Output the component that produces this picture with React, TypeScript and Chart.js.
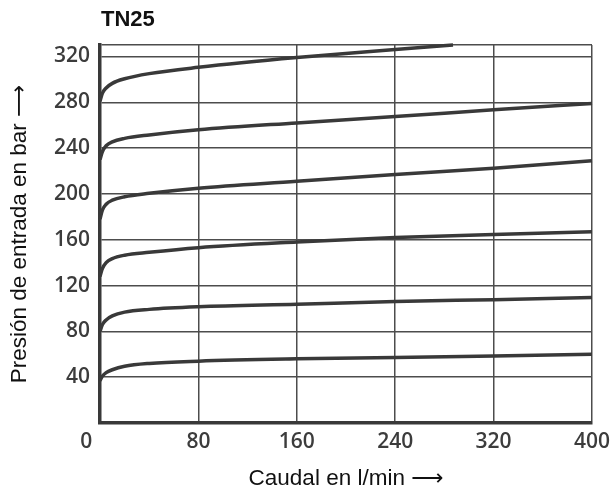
import React, { useEffect, useRef } from "react";
import { Chart, registerables } from "chart.js";

Chart.register(...registerables);

const chartTitle = "TN25";
const xAxisTitle = "Caudal en l/min \u27F6";
const yAxisTitle = "Presión de entrada en bar \u27F6";

const X_MIN = 0;
const X_MAX = 400;
const X_STEP = 80;
const Y_MIN = 0;
const Y_MAX = 330;
const yTickLabels = [40, 80, 120, 160, 200, 240, 280, 320];

const flowX = [0, 2, 5, 10, 20, 40, 80, 160, 240, 320, 400];
const flowXTop = [0, 2, 5, 10, 20, 40, 80, 160, 240, 287];

const curve1 = [281, 288, 292.5, 296.5, 300.5, 305, 310.5, 319, 326, 330];
const curve2 = [230, 237, 242, 245.5, 248.5, 251.5, 256, 262, 267.5, 273.5, 279];
const curve3 = [178, 186, 191, 194.5, 197.5, 200.5, 205, 211, 217, 222.5, 229];
const curve4 = [128, 135, 140, 143.5, 146.5, 149, 153, 158, 162, 164.5, 167];
const curve5 = [80, 86, 90, 93.5, 96.8, 99.2, 101.5, 103.7, 106, 107.7, 109.5];
const curve6 = [37, 41, 44, 46.5, 49.5, 52, 54, 56, 57.2, 58.6, 60];

const seriesList = [
  { xs: flowXTop, ys: curve1 },
  { xs: flowX, ys: curve2 },
  { xs: flowX, ys: curve3 },
  { xs: flowX, ys: curve4 },
  { xs: flowX, ys: curve5 },
  { xs: flowX, ys: curve6 },
];

const LINE_COLOR = "#393939";
const GRID_COLOR = "#4d4d4d";
const TICK_COLOR = "#3c3c3c";
const TICK_FONT = { family: "'Open Sans', 'DejaVu Sans'", size: 21, weight: "600" as const };
const TITLE_FONT = { family: "'Liberation Sans', Arial, 'DejaVu Sans', sans-serif", size: 22.5, weight: "normal" as const };

export default function App() {
  const canvasRef = useRef<HTMLCanvasElement | null>(null);

  useEffect(() => {
    if (!canvasRef.current) return;

    const titlePlugin = {
      id: "cornerTitle",
      afterDraw(chart: any) {
        const { ctx, chartArea } = chart;
        ctx.save();
        ctx.fillStyle = "#111111";
        ctx.font = "bold 22px 'Liberation Sans', Arial, sans-serif";
        ctx.textAlign = "left";
        ctx.textBaseline = "alphabetic";
        ctx.fillText(chartTitle, chartArea.left + 1, 26);
        ctx.restore();
      },
    };

    const chart = new Chart(canvasRef.current, {
      type: "line",
      data: {
        datasets: seriesList.map((s) => ({
          data: s.xs.map((x, i) => ({ x, y: s.ys[i] })),
          borderColor: LINE_COLOR,
          borderWidth: 3.5,
          pointRadius: 0,
          fill: false,
          cubicInterpolationMode: "monotone" as const,
          clip: 6,
        })),
      },
      options: {
        animation: false,
        responsive: true,
        maintainAspectRatio: false,
        layout: { padding: { top: 45, right: 20, left: 0, bottom: 0 } },
        plugins: {
          legend: { display: false },
          tooltip: { enabled: false },
          title: { display: false },
        },
        scales: {
          x: {
            type: "linear",
            min: X_MIN,
            max: X_MAX,
            ticks: {
              stepSize: X_STEP,
              color: TICK_COLOR,
              font: TICK_FONT,
              padding: 6,
              maxRotation: 0,
              autoSkip: false,
              callback: (v: any) => (Number(v) === 0 ? "0     " : String(v)),
            },
            grid: { color: GRID_COLOR, lineWidth: 1.5, drawTicks: false },
            border: { color: LINE_COLOR, width: 3.5 },
            title: {
              display: true,
              text: xAxisTitle,
              color: "#111111",
              font: TITLE_FONT,
              padding: { top: 0, bottom: 4 },
            },
            afterFit: (scale: any) => {
              scale.height = 73;
              scale.paddingLeft = 0;
              scale.paddingRight = 0;
            },
          },
          y: {
            type: "linear",
            min: Y_MIN,
            max: Y_MAX,
            afterBuildTicks: (scale: any) => {
              scale.ticks = [Y_MIN, ...yTickLabels, Y_MAX].map((v) => ({ value: v }));
            },
            ticks: {
              color: TICK_COLOR,
              font: TICK_FONT,
              padding: 10,
              autoSkip: false,
              callback: (v: any) => (yTickLabels.includes(Number(v)) ? String(v) : ""),
            },
            grid: { color: GRID_COLOR, lineWidth: 1.5, drawTicks: false },
            border: { color: LINE_COLOR, width: 3.5 },
            title: {
              display: true,
              text: yAxisTitle,
              color: "#111111",
              font: TITLE_FONT,
              padding: { top: 6, bottom: 0 },
            },
            afterFit: (scale: any) => {
              scale.width = 100;
              scale.paddingTop = 0;
              scale.paddingBottom = 0;
            },
          },
        },
      },
      plugins: [titlePlugin],
    });

    return () => chart.destroy();
  }, []);

  return (
    <div style={{ position: "absolute", left: 0, top: 0, width: 612, height: 496 }}>
      <canvas ref={canvasRef} />
    </div>
  );
}
